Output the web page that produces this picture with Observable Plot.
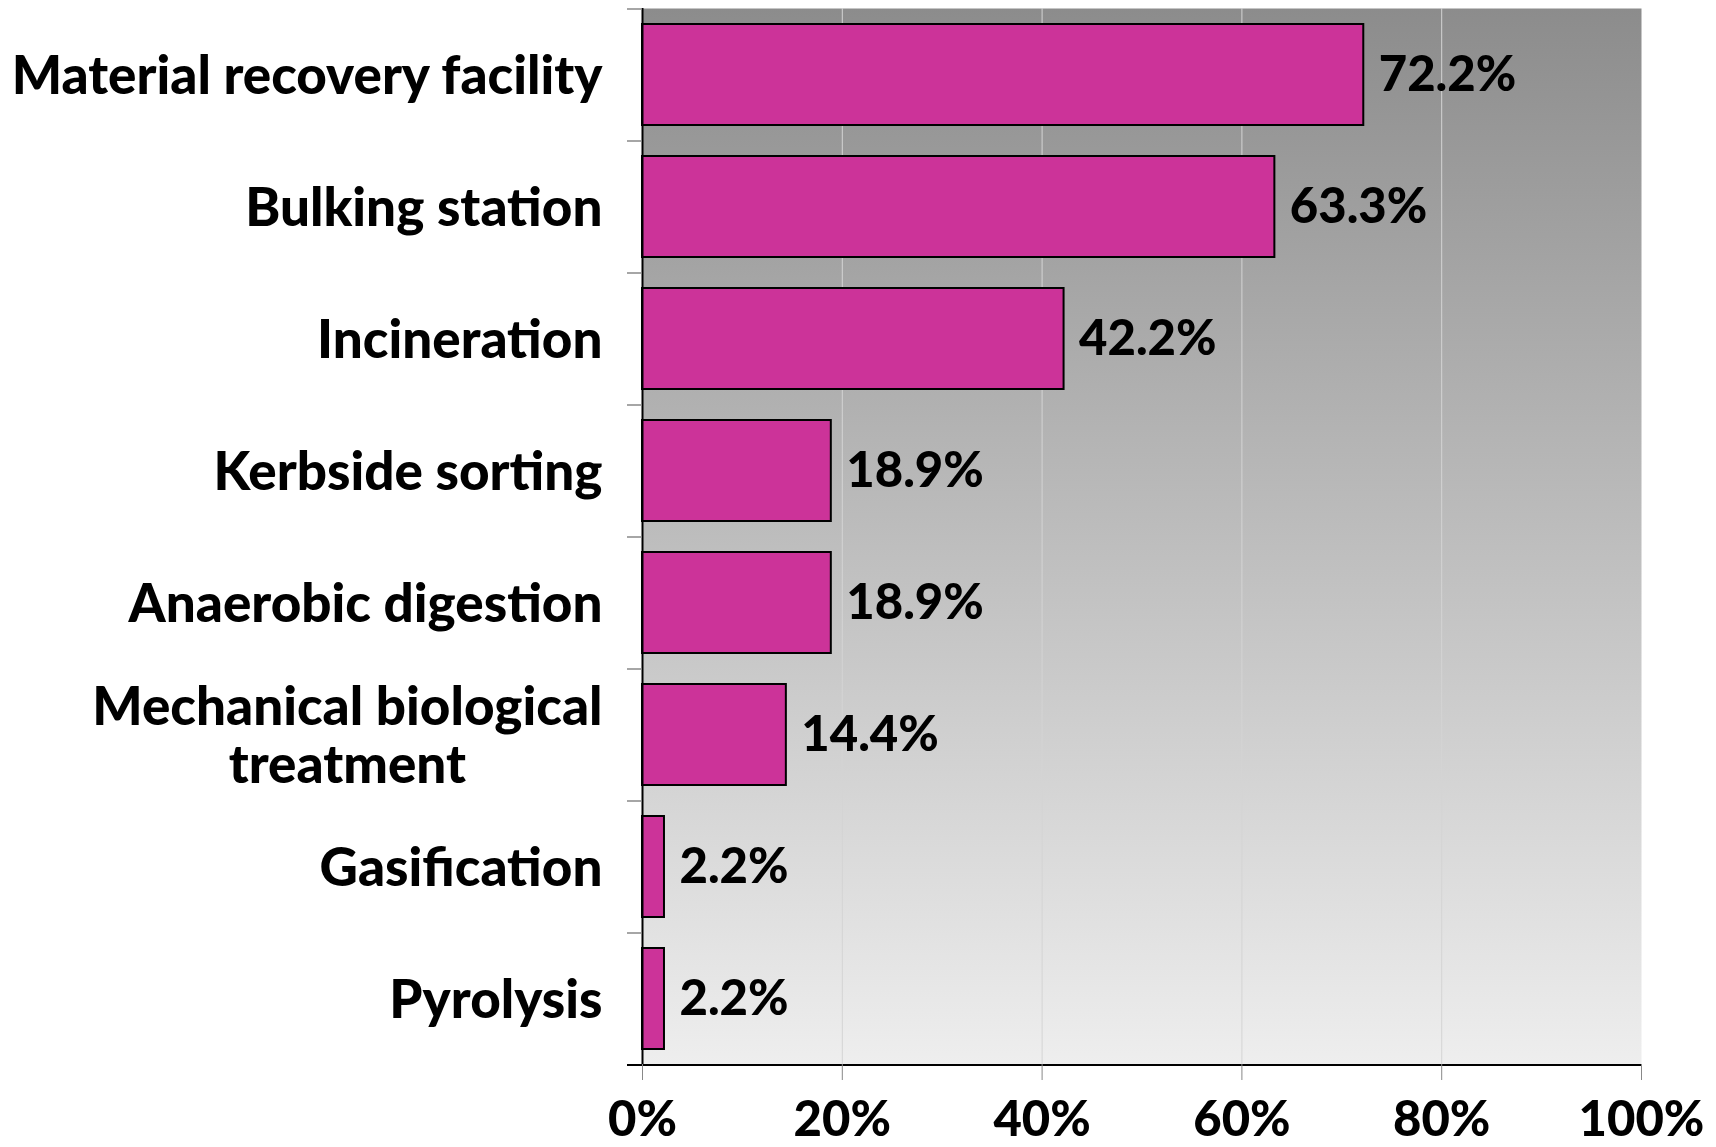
<!DOCTYPE html>
<html>
<head>
<meta charset="utf-8">
<script src="https://cdn.jsdelivr.net/npm/d3@7"></script>
<script src="https://cdn.jsdelivr.net/npm/@observablehq/plot@0.6"></script>
<style>
  html, body { margin: 0; padding: 0; background: #fff; overflow: hidden; }
  svg { display: block; }
</style>
</head>
<body>
<div id="chart"></div>
<script>
const categories = [
  "Material recovery facility",
  "Bulking station",
  "Incineration",
  "Kerbside sorting",
  "Anaerobic digestion",
  "Mechanical biological\ntreatment",
  "Gasification",
  "Pyrolysis"
];
const values = [72.2, 63.3, 42.2, 18.9, 18.9, 14.4, 2.2, 2.2];
const xTicks = [0, 20, 40, 60, 80, 100];
const gridTicks = [20, 40, 60, 80];

const data = categories.map((c, i) => ({category: c, value: values[i]}));

const W = 1716, H = 1147;
const mL = 642, mR = 75, mT = 8, mB = 83;
const step = (H - mT - mB) / categories.length;
const pxPerUnit = (W - mL - mR) / 100;
const tickLen = 15;
const FONT = 49;
const YFONT = 53;

const svg = Plot.plot({
  width: W,
  height: H,
  marginLeft: mL,
  marginRight: mR,
  marginTop: mT,
  marginBottom: mB,
  style: {fontFamily: "Lato, 'Open Sans', sans-serif", fontWeight: "900", color: "black", background: "white"},
  x: {domain: [0, 100]},
  y: {domain: categories, paddingInner: 0.235, paddingOuter: 0.1175},
  marks: [
    Plot.frame({fill: "url(#bgGrad)", stroke: "none"}),
    Plot.ruleX(gridTicks, {stroke: "#d4d4d4", strokeWidth: 1}),
    Plot.barX(data, {x: "value", y: "category", fill: "#cc3399", stroke: "black", strokeWidth: 2}),
    Plot.text(data, {x: "value", y: "category", text: d => d.value.toFixed(1) + "%", textAnchor: "start", dx: 15, fontSize: FONT, fontWeight: "900", fill: "black"}),
    // left axis line
    Plot.ruleX([0], {stroke: "black", strokeWidth: 2}),
    // y ticks at band boundaries
    Plot.ruleY(categories, {y: d => d, x1: -tickLen / pxPerUnit, x2: 0, dy: -step / 2, stroke: "#888", strokeWidth: 1.5}),
    // bottom axis line
    Plot.ruleY([categories[categories.length - 1]], {x1: -tickLen / pxPerUnit, x2: 100, dy: step / 2, stroke: "black", strokeWidth: 2}),
    Plot.axisX(xTicks, {tickSize: 16, tickPadding: 21, tickFormat: d => d + "%", fontSize: FONT, fontWeight: "900", stroke: "#888", label: null}),
    Plot.axisY({tickSize: 0, tickPadding: 40, fontSize: YFONT, fontWeight: "900", lineHeight: 1.1, label: null})
  ]
});

// gradient background
const ns = "http://www.w3.org/2000/svg";
const defs = document.createElementNS(ns, "defs");
const grad = document.createElementNS(ns, "linearGradient");
grad.setAttribute("id", "bgGrad");
grad.setAttribute("x1", "0"); grad.setAttribute("y1", "0");
grad.setAttribute("x2", "0"); grad.setAttribute("y2", "1");
[["0", "#8c8c8c"], ["1", "#eeeeee"]].forEach(([o, c]) => {
  const s = document.createElementNS(ns, "stop");
  s.setAttribute("offset", o);
  s.setAttribute("stop-color", c);
  grad.appendChild(s);
});
defs.appendChild(grad);
svg.insertBefore(defs, svg.firstChild);

document.getElementById("chart").appendChild(svg);

// center the wrapped label's second line under the first
svg.querySelectorAll("text").forEach(t => {
  const spans = t.querySelectorAll("tspan");
  if (spans.length === 2 && spans[1].textContent === "treatment") {
    const w = spans[0].getComputedTextLength();
    const x0 = parseFloat(spans[1].getAttribute("x") || 0);
    spans.forEach(s => { s.setAttribute("text-anchor", "middle"); s.setAttribute("x", x0 - w / 2); });
  }
});
</script>
</body>
</html>
